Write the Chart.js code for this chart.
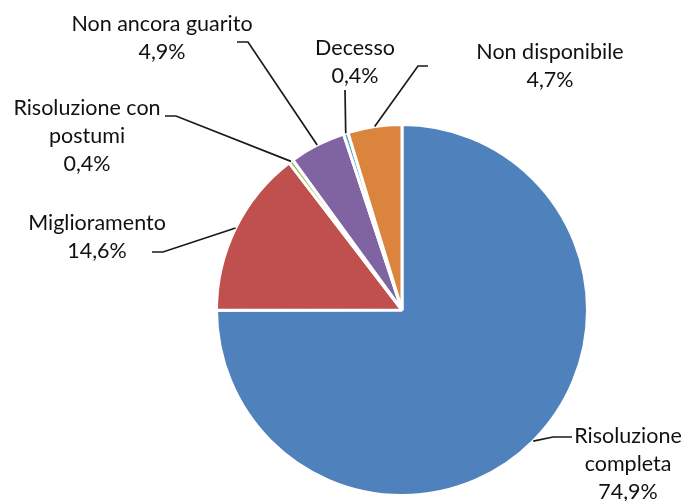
<!DOCTYPE html>
<html>
<head>
<meta charset="utf-8">
<script src="https://cdn.jsdelivr.net/npm/chart.js@4"></script>
<style>
  body { margin: 0; background: #fff; }
</style>
</head>
<body>
<canvas id="esito" width="686" height="501"></canvas>
<script>
// categorie in ordine orario partendo dalle ore 12
var categories = ['Risoluzione completa', 'Miglioramento', 'Risoluzione con postumi',
                  'Non ancora guarito', 'Decesso', 'Non disponibile'];
var values = [74.9, 14.6, 0.4, 4.9, 0.4, 4.7];
var colors = ['#4F81BD', '#C0504D', '#9BBB59', '#8064A2', '#4BACC6', '#DB843D'];

// righe di testo delle etichette
var labelLines = [
  ['Risoluzione', 'completa'],
  ['Miglioramento'],
  ['Risoluzione con', 'postumi'],
  ['Non ancora guarito'],
  ['Decesso'],
  ['Non disponibile']
];

// posizione delle etichette: gomito linea guida, fine linea, centro testo (x, y prima riga)
var callouts = [
  { elbow: [553, 437], end: [572, 437], text: [628, 436] },
  { elbow: [163, 252], end: [152, 252], text: [97, 223] },
  { elbow: [176, 116], end: [165, 116], text: [87, 108] },
  { elbow: [248, 42], end: [237, 42], text: [162, 24] },
  { elbow: [345, 90], end: [345, 90], text: [355, 48] },
  { elbow: [418, 66], end: [428, 66], text: [550, 52] }
];

function fmt(v) {
  return v.toFixed(1).replace('.', ',') + '%';
}

var calloutPlugin = {
  id: 'callouts',
  afterDraw: function(chart) {
    var ctx = chart.ctx;
    var meta = chart.getDatasetMeta(0);
    ctx.save();
    ctx.strokeStyle = '#1a1a1a';
    ctx.lineWidth = 1.7;
    ctx.fillStyle = '#111';
    ctx.font = '21.5px Lato';
    ctx.textAlign = 'center';
    ctx.textBaseline = 'middle';
    meta.data.forEach(function(arc, i) {
      var p = arc.getProps(['x', 'y', 'startAngle', 'endAngle', 'outerRadius'], true);
      var mid = (p.startAngle + p.endAngle) / 2;
      var sx = p.x + Math.cos(mid) * p.outerRadius;
      var sy = p.y + Math.sin(mid) * p.outerRadius;
      var c = callouts[i];
      ctx.beginPath();
      ctx.moveTo(sx, sy);
      ctx.lineTo(c.elbow[0], c.elbow[1]);
      ctx.lineTo(c.end[0], c.end[1]);
      ctx.stroke();
      var lines = labelLines[i].concat([fmt(values[i])]);
      lines.forEach(function(t, k) {
        ctx.fillText(t, c.text[0], c.text[1] + k * 28);
      });
    });
    ctx.restore();
  }
};

new Chart(document.getElementById('esito'), {
  type: 'pie',
  data: {
    labels: categories,
    datasets: [{
      data: values,
      backgroundColor: colors,
      borderColor: '#ffffff',
      borderWidth: 3
    }]
  },
  options: {
    responsive: false,
    animation: false,
    layout: { padding: { left: 215, right: 97, top: 123, bottom: 4 } },
    plugins: {
      legend: { display: false },
      tooltip: { enabled: false }
    }
  },
  plugins: [calloutPlugin]
});
</script>
</body>
</html>
